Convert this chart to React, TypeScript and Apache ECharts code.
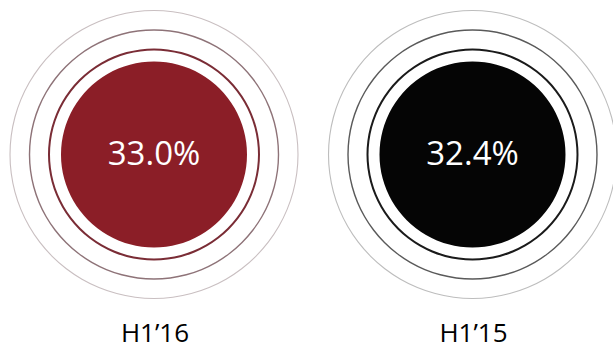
import React, { useEffect, useRef } from "react";
import * as echarts from "echarts";

const categories = ["H1’16", "H1’15"];
const values = [33.0, 32.4];
const fillColors = ["#8B1E27", "#050505"];
const ringColors = [
  ["#c9bfc1", "#8e7378", "#7a2c35"],
  ["#bdbdbd", "#5a5a5a", "#1a1a1a"],
];

export default function App() {
  const ref = useRef<HTMLDivElement>(null);
  useEffect(() => {
    if (!ref.current) return;
    const chart = echarts.init(ref.current, null, { renderer: "svg" });
    const centers = [
      [154, 154.5],
      [472.5, 154.5],
    ];
    const ringDefs = [
      { r: 144, w: 1.1 },
      { r: 124.5, w: 1.4 },
      { r: 105, w: 2 },
    ];
    const series: any[] = [];
    categories.forEach((cat, i) => {
      ringDefs.forEach((rd, j) => {
        series.push({
          type: "pie",
          silent: true,
          center: centers[i],
          radius: [rd.r - rd.w / 2, rd.r + rd.w / 2],
          label: { show: false },
          labelLine: { show: false },
          itemStyle: { color: ringColors[i][j], borderWidth: 0 },
          data: [{ value: 1, name: cat + "-ring" + j }],
        });
      });
      series.push({
        type: "pie",
        silent: true,
        center: centers[i],
        radius: [0, 93],
        itemStyle: { color: fillColors[i], borderWidth: 0 },
        label: {
          show: true,
          position: "center",
          formatter: (p: any) => p.value.toFixed(1) + "%",
          color: "#ffffff",
          fontSize: 33,
          fontFamily: "Open Sans",
          offset: [0, -2],
        },
        labelLine: { show: false },
        data: [{ value: values[i], name: cat }],
      });
    });
    chart.setOption({
      animation: false,
      backgroundColor: "#ffffff",
      series,
      graphic: categories.map((cat, i) => ({
        type: "text",
        x: centers[i][0] + 1,
        y: 345,
        style: {
          text: cat,
          fontSize: 26,
          lineHeight: 26,
          fontFamily: "Open Sans",
          fill: "#000000",
          textAlign: "center",
          textVerticalAlign: "bottom",
        },
      })),
    });
    return () => chart.dispose();
  }, []);
  return (
    <div
      ref={ref}
      style={{ position: "fixed", left: 0, top: 0, width: 613, height: 345 }}
    />
  );
}
